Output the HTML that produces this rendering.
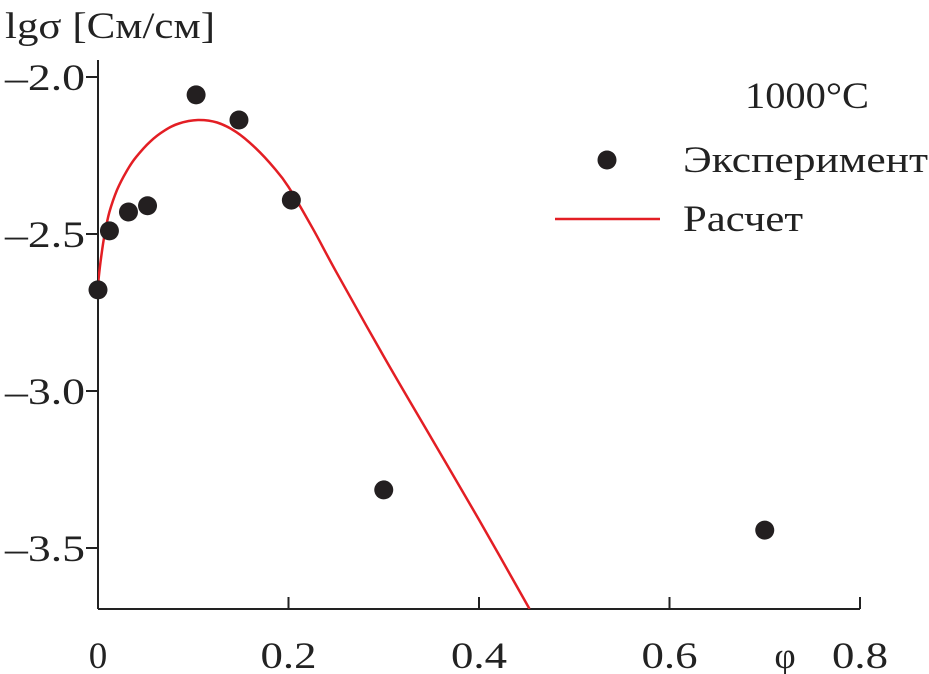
<!DOCTYPE html>
<html><head><meta charset="utf-8"><style>
html,body{margin:0;padding:0;background:#fff;}
svg{display:block;font-family:"Liberation Serif","DejaVu Serif",serif;}
</style></head><body>
<svg id="chart" width="929" height="674" viewBox="0 0 929 674" xmlns="http://www.w3.org/2000/svg">
<defs><clipPath id="plotclip"><rect x="98" y="40" width="762" height="569"/></clipPath></defs>
<g id="axes"></g>
<g id="curve" clip-path="url(#plotclip)"></g>
<g id="points"></g>
<text x="5" y="38" font-size="37" fill="#222" textLength="210" lengthAdjust="spacingAndGlyphs">lgσ [См/см]</text>
<text x="785" y="668" font-size="37" fill="#222" text-anchor="middle">φ</text>
<g>
<text x="745" y="108" font-size="37" fill="#222" textLength="124" lengthAdjust="spacingAndGlyphs">1000°C</text>
<circle cx="607" cy="160" r="9.5" fill="#231f20"/>
<text x="683" y="172" font-size="37" fill="#222" textLength="245" lengthAdjust="spacingAndGlyphs">Эксперимент</text>
<line x1="555" y1="219" x2="660" y2="219" stroke="#e31e24" stroke-width="2.5"/>
<text x="683" y="231" font-size="37" fill="#222" textLength="120" lengthAdjust="spacingAndGlyphs">Расчет</text>
</g>
</svg>
<script>
const expX=[0,0.012,0.032,0.052,0.103,0.148,0.203,0.3,0.7];
const expY=[-2.678,-2.49,-2.43,-2.41,-2.057,-2.137,-2.392,-3.315,-3.443];
const calcX=[0,0.003,0.007,0.012,0.02,0.03,0.04,0.055,0.07,0.085,0.105,0.125,0.145,0.165,0.185,0.2,0.225,0.25,0.3,0.35,0.4,0.453];
const calcY=[-2.66,-2.58,-2.50,-2.43,-2.36,-2.30,-2.255,-2.205,-2.17,-2.148,-2.137,-2.145,-2.175,-2.225,-2.29,-2.35,-2.48,-2.62,-2.89,-3.15,-3.41,-3.694];
const xTicks=[0,0.2,0.4,0.6,0.8];
const xTickLabels=["0","0.2","0.4","0.6","0.8"];
const yTicks=[-2.0,-2.5,-3.0,-3.5];
const yTickLabels=["–2.0","–2.5","–3.0","–3.5"];
const NS="http://www.w3.org/2000/svg";
function sx(v){return 98+v*952.5;}
function sy(v){return 77+(-2.0-v)*314;}
function mk(t,a,p){const e=document.createElementNS(NS,t);for(const k in a)e.setAttribute(k,a[k]);p.appendChild(e);return e;}
const axes=document.getElementById('axes');
let e=mk('line',{x1:98,y1:609,x2:860,y2:609,stroke:'#222','stroke-width':2},axes);


e=mk('line',{x1:98,y1:609,x2:98,y2:60,stroke:'#222','stroke-width':2},axes);


xTicks.forEach((v,i)=>{
  const x=sx(v);
  let t=mk('line',{x1:x,y1:609,x2:x,y2:597,stroke:'#222','stroke-width':2},axes);
  
  
  const a={x:x,y:668,'font-size':37,fill:'#222','text-anchor':'middle'};
  if(i>0){a.textLength=56;a.lengthAdjust='spacingAndGlyphs';}
  let l=mk('text',a,axes);
  l.textContent=xTickLabels[i];
  
  
});
yTicks.forEach((v,i)=>{
  const y=sy(v);
  let t=mk('line',{x1:86,y1:y,x2:98,y2:y,stroke:'#222','stroke-width':2},axes);
  
  
  let l=mk('text',{x:5,y:y+13,'font-size':37,fill:'#222',textLength:80,lengthAdjust:'spacingAndGlyphs'},axes);
  l.textContent=yTickLabels[i];
  
  
});
const cg=document.getElementById('curve');
const P=calcX.map((v,i)=>[sx(v),sy(calcY[i])]);
let d='M'+P[0][0].toFixed(1)+','+P[0][1].toFixed(1);
for(let i=0;i<P.length-1;i++){
  const p0=P[Math.max(0,i-1)],p1=P[i],p2=P[i+1],p3=P[Math.min(P.length-1,i+2)];
  const c1=[p1[0]+(p2[0]-p0[0])/6,p1[1]+(p2[1]-p0[1])/6];
  const c2=[p2[0]-(p3[0]-p1[0])/6,p2[1]-(p3[1]-p1[1])/6];
  d+=' C'+c1.map(n=>n.toFixed(1)).join(',')+' '+c2.map(n=>n.toFixed(1)).join(',')+' '+p2.map(n=>n.toFixed(1)).join(',');
}
let p=mk('path',{d:d,fill:'none',stroke:'#e31e24','stroke-width':2.5,'stroke-linejoin':'round'},cg);


const pg=document.getElementById('points');
expX.forEach((v,i)=>{
  let c=mk('circle',{cx:sx(v),cy:sy(expY[i]),r:9.5,fill:'#231f20'},pg);
  
  
});
</script>
</body></html>
